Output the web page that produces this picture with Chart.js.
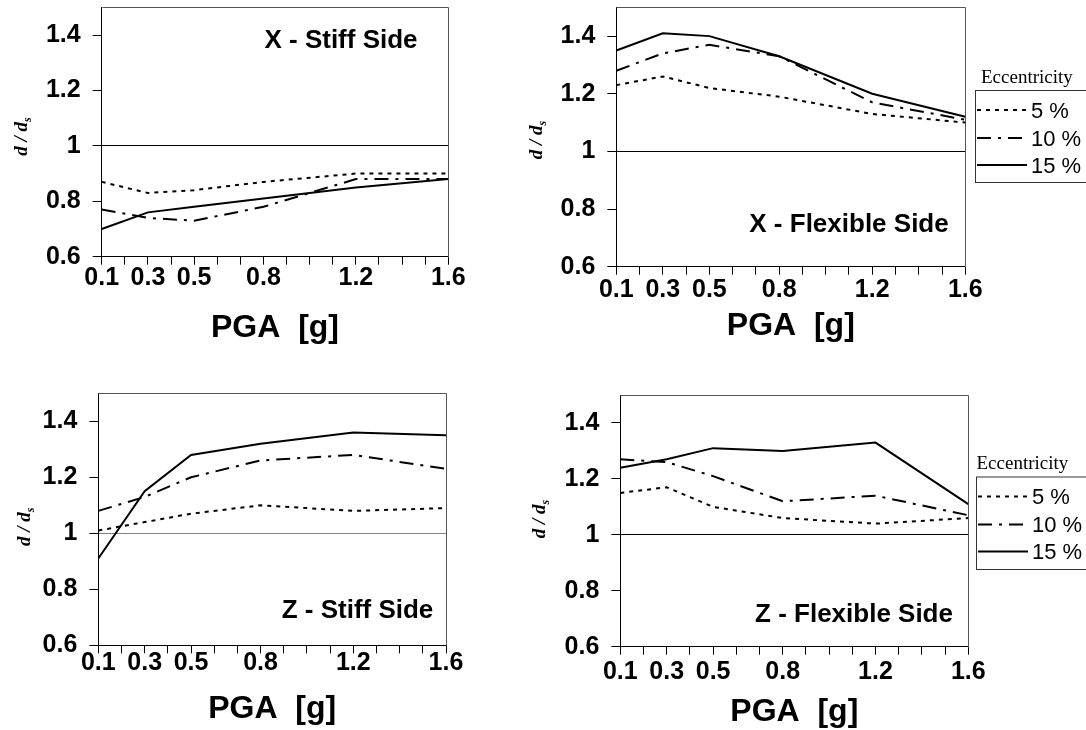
<!DOCTYPE html>
<html>
<head>
<meta charset="utf-8">
<script src="https://cdn.jsdelivr.net/npm/chart.js@4/dist/chart.umd.min.js"></script>
<style>
html,body{margin:0;padding:0;background:#fff;width:1086px;height:730px;overflow:hidden;}
.panel{position:absolute;}
canvas{display:block;}
</style>
</head>
<body>
<div class="panel" style="left:0px;top:0px;width:500px;height:365px"><canvas id="c1" width="500" height="365"></canvas></div>
<div class="panel" style="left:500px;top:0px;width:586px;height:365px"><canvas id="c2" width="586" height="365"></canvas></div>
<div class="panel" style="left:0px;top:365px;width:500px;height:365px"><canvas id="c3" width="500" height="365"></canvas></div>
<div class="panel" style="left:500px;top:365px;width:586px;height:365px"><canvas id="c4" width="586" height="365"></canvas></div>
<script>
// ---------- data ----------
const pga = [0.1, 0.3, 0.5, 0.8, 1.2, 1.6];
const seriesLabels = ['5 %', '10 %', '15 %'];
const xTickValues = [0.1, 0.2, 0.3, 0.4, 0.5, 0.6, 0.7, 0.8, 0.9, 1.0, 1.1, 1.2, 1.3, 1.4, 1.5, 1.6];
const xTickLabels = ['0.1', '0.3', '0.5', '0.8', '1.2', '1.6'];
const yTickValues = [0.6, 0.8, 1.0, 1.2, 1.4];
const yTickLabels = ['0.6', '0.8', '1', '1.2', '1.4'];

const xStiff5  = [0.87, 0.83, 0.84, 0.87, 0.90, 0.90];
const xStiff10 = [0.77, 0.74, 0.73, 0.78, 0.88, 0.88];
const xStiff15 = [0.70, 0.76, 0.78, 0.81, 0.85, 0.88];

const xFlex5  = [1.23, 1.26, 1.22, 1.19, 1.13, 1.10];
const xFlex10 = [1.28, 1.34, 1.37, 1.33, 1.17, 1.11];
const xFlex15 = [1.35, 1.41, 1.40, 1.33, 1.20, 1.12];

const zStiff5  = [1.01, 1.04, 1.07, 1.10, 1.08, 1.09];
const zStiff10 = [1.08, 1.13, 1.20, 1.26, 1.28, 1.23];
const zStiff15 = [0.91, 1.15, 1.28, 1.32, 1.36, 1.35];

const zFlex5  = [1.15, 1.17, 1.10, 1.06, 1.04, 1.06];
const zFlex10 = [1.27, 1.26, 1.21, 1.12, 1.14, 1.07];
const zFlex15 = [1.24, 1.27, 1.31, 1.30, 1.33, 1.11];

// ---------- styles ----------
const SANS = '"Liberation Sans", Arial, sans-serif';
const SERIF = '"Liberation Serif", "Times New Roman", serif';
Chart.defaults.font.family = SANS;
Chart.defaults.color = '#000';
const dashes = [[4, 5], [14, 7, 3, 7], []];
const lineWidths = [2, 2, 2];

const panelDecor = {
  id: 'panelDecor',
  beforeDatasetsDraw(chart, args, o) {
    const {ctx, chartArea: a} = chart;
    ctx.save();
    ctx.strokeStyle = o.frameColor;
    ctx.lineWidth = 1;
    ctx.beginPath();
    ctx.moveTo(Math.round(a.left) + 0.5, Math.round(a.top) + 0.5);
    ctx.lineTo(Math.round(a.right) + 0.5, Math.round(a.top) + 0.5);
    ctx.lineTo(Math.round(a.right) + 0.5, Math.round(a.bottom) + 0.5);
    ctx.stroke();
    ctx.restore();
  },
  afterDraw(chart, args, o) {
    const ctx = chart.ctx;
    const ox = o.origin[0], oy = o.origin[1];
    // panel title
    ctx.save();
    ctx.fillStyle = '#000';
    ctx.font = 'bold 26px ' + SANS;
    ctx.textAlign = 'center';
    ctx.textBaseline = 'middle';
    ctx.fillText(o.title, o.titlePos[0] - ox, o.titlePos[1] - oy);
    ctx.restore();
    // y axis title  d / d_s (rotated)
    ctx.save();
    ctx.fillStyle = '#000';
    ctx.translate(o.yTitlePos[0] - ox, o.yTitlePos[1] - oy);
    ctx.rotate(-Math.PI / 2);
    const mainFont = 'italic bold 19px ' + SERIF;
    const subFont = 'italic bold 12px ' + SERIF;
    ctx.font = mainFont; const w1 = ctx.measureText('d / d').width;
    ctx.font = subFont; const w2 = ctx.measureText('s').width;
    const start = -(w1 + w2) / 2;
    ctx.textBaseline = 'alphabetic';
    ctx.textAlign = 'left';
    ctx.font = mainFont; ctx.fillText('d / d', start, 0);
    ctx.font = subFont; ctx.fillText('s', start + w1, 4);
    ctx.restore();
    // legend
    if (o.legend) {
      const L = o.legend;
      ctx.save();
      ctx.fillStyle = '#000';
      ctx.font = '19px ' + SERIF;
      ctx.textAlign = 'left';
      ctx.textBaseline = 'alphabetic';
      ctx.fillText('Eccentricity', L.titleX - ox, L.boxT - 8 - oy);
      ctx.strokeStyle = '#333';
      ctx.lineWidth = 1;
      ctx.strokeRect(L.boxL - ox, L.boxT - oy, 200, L.boxB - L.boxT);
      ctx.font = '22px ' + SANS;
      ctx.textBaseline = 'middle';
      chart.data.datasets.forEach((ds, i) => {
        const yc = L.boxT + L.itemDy[i] - oy;
        ctx.save();
        ctx.strokeStyle = ds.borderColor;
        ctx.lineWidth = ds.borderWidth;
        ctx.setLineDash(ds.borderDash || []);
        ctx.beginPath();
        ctx.moveTo(L.lineX0 - ox, yc - 1.5);
        ctx.lineTo(L.lineX1 - ox, yc - 1.5);
        ctx.stroke();
        ctx.restore();
        ctx.fillText(ds.label, L.textX - ox, yc);
      });
      ctx.restore();
    }
  }
};

function makePanel(p) {
  const [cx, cy, cw, ch] = p.canvas;
  const A = p.area;
  const series = p.series;
  return new Chart(document.getElementById(p.id), {
    type: 'line',
    data: {
      datasets: series.map((s, i) => ({
        label: seriesLabels[i],
        data: pga.map((x, j) => ({x: x, y: s[j]})),
        borderColor: '#000',
        backgroundColor: '#000',
        borderWidth: lineWidths[i],
        borderDash: dashes[i],
        pointRadius: 0,
        fill: false,
        tension: 0
      }))
    },
    options: {
      responsive: false,
      animation: false,
      events: [],
      layout: {padding: {left: 0, top: A.T - cy, right: cx + cw - A.R, bottom: 0}},
      plugins: {
        legend: {display: false},
        tooltip: {enabled: false},
        panelDecor: {
          origin: [cx, cy], frameColor: '#555',
          title: p.title, titlePos: p.titlePos, yTitlePos: p.yTitlePos,
          legend: p.legend || null
        }
      },
      scales: {
        x: {
          type: 'linear', min: 0.1, max: 1.6,
          afterBuildTicks: s => { s.ticks = xTickValues.map(v => ({value: v})); },
          afterFit: s => { s.height = cy + ch - A.B; s.paddingLeft = 0; s.paddingRight = 0; },
          ticks: {
            autoSkip: false, maxRotation: 0, minRotation: 0,
            padding: p.xTickPad, color: '#000',
            font: {size: 25, weight: 'bold', family: SANS},
            callback: v => { const t = Number(v).toFixed(1); return xTickLabels.includes(t) ? t : ''; }
          },
          grid: {drawOnChartArea: false, drawTicks: true, tickLength: 8, tickColor: '#000', tickWidth: 1},
          border: {display: true, color: '#000', width: 1},
          title: {
            display: true, text: 'PGA  [g]', color: '#000',
            font: {size: 32, weight: 'bold', family: SANS},
            padding: {top: 0, bottom: p.xTitlePad}
          }
        },
        y: {
          type: 'linear', min: 0.6, max: 1.5,
          afterBuildTicks: s => { s.ticks = yTickValues.map(v => ({value: v})); },
          afterFit: s => { s.width = A.L - cx; s.paddingTop = 0; s.paddingBottom = 0; },
          ticks: {
            padding: 12, color: '#000',
            font: {size: 25, weight: 'bold', family: SANS},
            callback: (v, i) => yTickLabels[i]
          },
          grid: {
            drawOnChartArea: true, drawTicks: true, tickLength: 9, tickColor: '#000', lineWidth: 1,
            color: c => (c.tick && Math.abs(c.tick.value - 1) < 1e-9) ? p.refColor : 'rgba(0,0,0,0)'
          },
          border: {display: true, color: '#000', width: 1},
          title: {display: false}
        }
      }
    },
    plugins: [panelDecor]
  });
}

makePanel({
  id: 'c1', canvas: [0, 0, 500, 365],
  area: {L: 101.7, R: 448.3, T: 7.3, B: 256.7},
  series: [xStiff5, xStiff10, xStiff15],
  xTickPad: -1.2, xTitlePad: 17.8, refColor: '#000',
  title: 'X - Stiff Side', titlePos: [341, 40.5], yTitlePos: [27, 136.5]
});
makePanel({
  id: 'c2', canvas: [500, 0, 586, 365],
  area: {L: 616.3, R: 965.3, T: 7.3, B: 266.7},
  series: [xFlex5, xFlex10, xFlex15],
  xTickPad: 0.3, xTitlePad: 19.8, refColor: '#000',
  title: 'X - Flexible Side', titlePos: [849, 225], yTitlePos: [541.7, 140],
  legend: {titleX: 981, boxL: 975.5, boxT: 90.5, boxB: 182.5, itemDy: [21, 49, 76], lineX0: 977, lineX1: 1027, textX: 1031}
});
makePanel({
  id: 'c3', canvas: [0, 365, 500, 365],
  area: {L: 98.3, R: 446, T: 393.3, B: 645.3},
  series: [zStiff5, zStiff10, zStiff15],
  xTickPad: -5, xTitlePad: 1.8, refColor: '#808080',
  title: 'Z - Stiff Side', titlePos: [357.5, 610.5], yTitlePos: [30, 526.7]
});
makePanel({
  id: 'c4', canvas: [500, 365, 586, 365],
  area: {L: 620.3, R: 968.3, T: 395, B: 646.7},
  series: [zFlex5, zFlex10, zFlex15],
  xTickPad: 2, xTitlePad: -1.7, refColor: '#000',
  title: 'Z - Flexible Side', titlePos: [854, 614.7], yTitlePos: [545, 519],
  legend: {titleX: 976.5, boxL: 976.5, boxT: 477, boxB: 569.5, itemDy: [21, 49, 76], lineX0: 978, lineX1: 1028, textX: 1032}
});
</script>
</body>
</html>
